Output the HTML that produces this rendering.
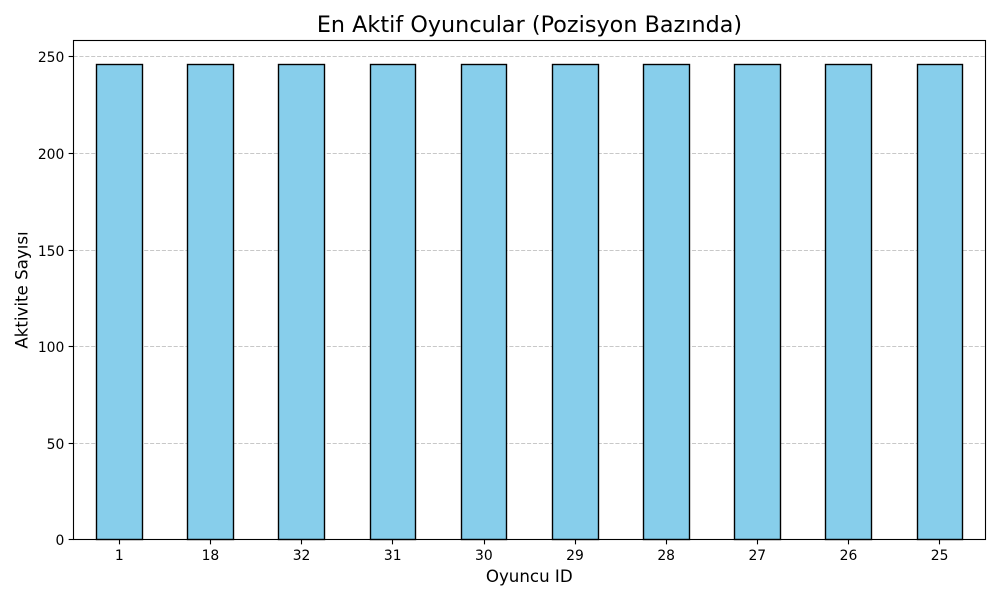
<!DOCTYPE html>
<html lang="tr">
<head>
<meta charset="utf-8">
<title>En Aktif Oyuncular (Pozisyon Bazında)</title>
<style>
html,body{margin:0;padding:0;background:#fff;}
svg{display:block;}
text{font-family:"DejaVu Sans",sans-serif;fill:#000;}
</style>
</head>
<body>
<svg id="chart" xmlns="http://www.w3.org/2000/svg" width="1000" height="600" viewBox="0 0 1000 600"></svg>
<script>
const categories = ['1', '18', '32', '31', '30', '29', '28', '27', '26', '25'];
const activityCounts = [246, 246, 246, 246, 246, 246, 246, 246, 246, 246];
const yTicks = [0, 50, 100, 150, 200, 250];

const svg = document.getElementById('chart');
const NS = 'http://www.w3.org/2000/svg';
const plot = { left: 73.5, right: 985.5, top: 40.5, bottom: 539.5 };
const xOrigin = 73.39;
const slot = 91.15;
const pxPerUnit = 1.9325;

function xScale(i) { return xOrigin + slot * (i + 0.5); }
function yScale(v) { return plot.bottom - v * pxPerUnit; }
function snap(p) { return Math.floor(p + 0.5) + 0.5; }
function make(tag, attrs, text) {
  const el = document.createElementNS(NS, tag);
  for (const k in attrs) el.setAttribute(k, attrs[k]);
  if (text !== undefined) el.textContent = text;
  svg.appendChild(el);
  return el;
}

const bg = make('rect', { x: plot.left, y: plot.top, width: plot.right - plot.left, height: plot.bottom - plot.top, fill: '#fff' });



yTicks.forEach(function (v) {
  const y = v === 0 ? plot.bottom : snap(yScale(v));
  if (v > 0) {
    const g = make('line', { x1: plot.left, x2: plot.right, y1: y, y2: y, stroke: '#b0b0b0', 'stroke-opacity': 0.7, 'stroke-width': 1.11, 'stroke-dasharray': '4.11 1.78' });
    
    
  }
  const t = make('line', { x1: plot.left - 4.86, x2: plot.left, y1: y, y2: y, stroke: '#000', 'stroke-width': 1.11 });
  
  
  const l = make('text', { x: plot.left - 9.2, y: y + 5.5, 'text-anchor': 'end', 'font-size': 13.89 }, String(v));
  
  
});

categories.forEach(function (c, i) {
  const cx = xScale(i);
  const w = slot * 0.5;
  const x0 = snap(cx - w / 2);
  const x1 = snap(cx + w / 2);
  const top = snap(yScale(activityCounts[i]));
  const b = make('rect', { x: x0, y: top, width: x1 - x0, height: plot.bottom - top, fill: '#87ceeb', stroke: '#000', 'stroke-width': 1.39 });
  
  
  const tx = snap(cx);
  const t = make('line', { x1: tx, x2: tx, y1: plot.bottom, y2: plot.bottom + 4.86, stroke: '#000', 'stroke-width': 1.11 });
  
  
  const l = make('text', { x: cx + 0.3, y: plot.bottom + 20.5, 'text-anchor': 'middle', 'font-size': 13.89 }, c);
  
  
});

const frame = make('rect', { x: plot.left, y: plot.top, width: plot.right - plot.left, height: plot.bottom - plot.top, fill: 'none', stroke: '#000', 'stroke-width': 1.11 });



const title = make('text', { x: 529.5, y: 32, 'text-anchor': 'middle', 'font-size': 22.22, 'letter-spacing': 0.05 }, 'En Aktif Oyuncular (Pozisyon Bazında)');



const xTitle = make('text', { x: 529.25, y: 582, 'text-anchor': 'middle', 'font-size': 16.67 }, 'Oyuncu ID');



const yTitle = make('text', { x: 0, y: 0, 'text-anchor': 'middle', 'font-size': 16.67, transform: 'translate(27.5,290) rotate(-90)' }, 'Aktivite Sayısı');


</script>
</body>
</html>
